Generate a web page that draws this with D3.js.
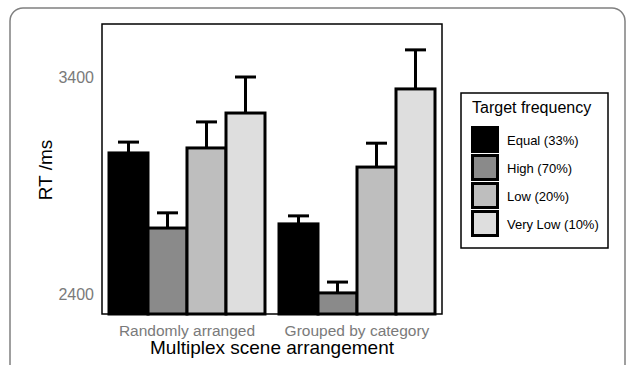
<!DOCTYPE html>
<html>
<head>
<meta charset="utf-8">
<script src="https://cdn.jsdelivr.net/npm/d3@7"></script>
<style>
  body { margin: 0; background: #fff; }
  svg { display: block; font-family: "Liberation Sans", Arial, sans-serif; }
</style>
</head>
<body>
<svg id="chart" width="627" height="365"></svg>
<script>
const groups = ["Randomly arranged", "Grouped by category"]
const series = ["Equal (33%)", "High (70%)", "Low (20%)", "Very Low (10%)"]
const colors = ["#000000", "#8a8a8a", "#bebebe", "#dedede"]
const meanRandom = [3050, 2704, 3073, 3234]
const errRandom = [50, 70, 120, 166]
const meanGrouped = [2723, 2405, 2985, 3345]
const errGrouped = [37, 50, 110, 180]
const yTicks = [2400, 3400]

const svg = d3.select("#chart")

// outer figure frame (runs off the bottom)
svg.append("rect")
    .attr("x", 10).attr("y", 8)
    .attr("width", 615).attr("height", 420)
    .attr("rx", 13)
    .attr("fill", "none")
    .attr("stroke", "#808080")
    .attr("stroke-width", 1.5)

const panel = { left: 102, top: 24, right: 442, bottom: 314 }

const x0 = d3.scaleBand()
    .domain(groups)
    .range([109, 435])
    .paddingInner(0.0824)

const x1 = d3.scaleBand()
    .domain(series)
    .range([0, x0.bandwidth()])

const y = d3.scaleLinear()
    .domain([2400, 3400])
    .range([294, 77])

const rows = groups.map((g, gi) => series.map((s, si) => ({
    group: g,
    series: s,
    color: colors[si],
    mean: gi === 0 ? meanRandom[si] : meanGrouped[si],
    err: gi === 0 ? errRandom[si] : errGrouped[si]
}))).flat()

const bars = svg.append("g")

bars.selectAll("rect")
    .data(rows)
    .join("rect")
    .attr("x", d => x0(d.group) + x1(d.series))
    .attr("y", d => y(d.mean))
    .attr("width", x1.bandwidth())
    .attr("height", d => panel.bottom - y(d.mean))
    .attr("fill", d => d.color)
    .attr("stroke", "#000")
    .attr("stroke-width", 3)

// error bars
const eb = svg.append("g")
    .attr("stroke", "#000")
    .attr("stroke-width", 3)

eb.selectAll("line.v")
    .data(rows)
    .join("line")
    .attr("class", "v")
    .attr("x1", d => x0(d.group) + x1(d.series) + x1.bandwidth() / 2)
    .attr("x2", d => x0(d.group) + x1(d.series) + x1.bandwidth() / 2)
    .attr("y1", d => y(d.mean))
    .attr("y2", d => y(d.mean + d.err))

eb.selectAll("line.cap")
    .data(rows)
    .join("line")
    .attr("class", "cap")
    .attr("x1", d => x0(d.group) + x1(d.series) + x1.bandwidth() / 2 - 10.5)
    .attr("x2", d => x0(d.group) + x1(d.series) + x1.bandwidth() / 2 + 10.5)
    .attr("y1", d => y(d.mean + d.err))
    .attr("y2", d => y(d.mean + d.err))

// panel border
svg.append("rect")
    .attr("x", panel.left).attr("y", panel.top)
    .attr("width", panel.right - panel.left)
    .attr("height", panel.bottom - panel.top)
    .attr("fill", "none")
    .attr("stroke", "#000")
    .attr("stroke-width", 1.5)

// y tick labels
svg.append("g")
    .selectAll("text")
    .data(yTicks)
    .join("text")
    .attr("x", 94)
    .attr("y", d => y(d))
    .attr("dy", "0.36em")
    .attr("text-anchor", "end")
    .attr("fill", "#7a7a7a")
    .attr("font-size", 16)
    .text(d => d)

// x tick labels
svg.append("g")
    .selectAll("text")
    .data(groups)
    .join("text")
    .attr("x", d => x0(d) + x0.bandwidth() / 2)
    .attr("y", 336)
    .attr("text-anchor", "middle")
    .attr("fill", "#7a7a7a")
    .attr("font-size", 15.5)
    .text(d => d)

svg.append("text")
    .attr("x", (panel.left + panel.right) / 2)
    .attr("y", 354)
    .attr("text-anchor", "middle")
    .attr("font-size", 19)
    .attr("fill", "#000")
    .text("Multiplex scene arrangement")

svg.append("text")
    .attr("transform", "translate(52,170) rotate(-90)")
    .attr("text-anchor", "middle")
    .attr("font-size", 19)
    .attr("fill", "#000")
    .text("RT /ms")

// legend
const legend = svg.append("g")

legend.append("rect")
    .attr("x", 461).attr("y", 93)
    .attr("width", 147).attr("height", 155)
    .attr("fill", "#fff")
    .attr("stroke", "#000")
    .attr("stroke-width", 1.5)

legend.append("text")
    .attr("x", 472).attr("y", 113)
    .attr("font-size", 16)
    .text("Target frequency")

const ly = d3.scaleBand()
    .domain(series)
    .range([126, 238])

const item = legend.selectAll("g.item")
    .data(series)
    .join("g")
    .attr("class", "item")
    .attr("transform", d => `translate(471,${ly(d)})`)

item.append("rect")
    .attr("x", 1.5).attr("y", 1.5)
    .attr("width", 25).attr("height", ly.bandwidth() - 4)
    .attr("fill", (d, i) => colors[i])
    .attr("stroke", "#000")
    .attr("stroke-width", 3)

item.append("text")
    .attr("x", 36)
    .attr("y", ly.bandwidth() / 2 + 5)
    .attr("font-size", 13)
    .text(d => d)
</script>
</body>
</html>
